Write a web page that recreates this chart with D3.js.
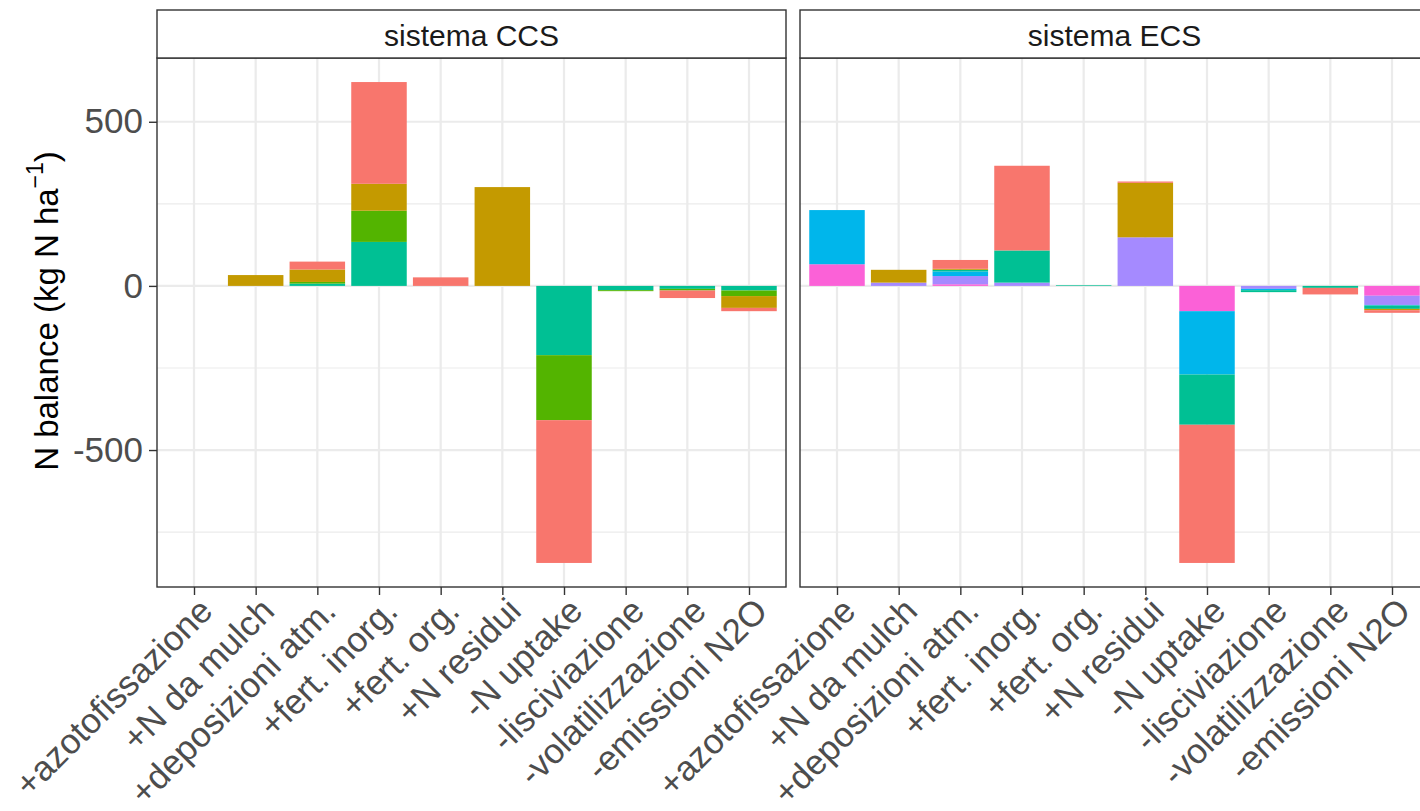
<!DOCTYPE html>
<html>
<head>
<meta charset="utf-8">
<script src="https://cdn.jsdelivr.net/npm/d3@7"></script>
<style>
  html, body { margin: 0; padding: 0; background: #ffffff; }
  svg { display: block; font-family: "Liberation Sans", Arial, sans-serif; }
</style>
</head>
<body>
<svg id="chart" width="1420" height="811"></svg>
<script>
// ---------------- DATA ----------------
const categories = ["+azotofissazione", "+N da mulch", "+deposizioni atm.", "+fert. inorg.", "+fert. org.",
                    "+N residui", "-N uptake", "-lisciviazione", "-volatilizzazione", "-emissioni N2O"];
const systems = ["sistema CCS", "sistema ECS"];
const seriesKeys = ["g1", "g2", "g3", "g4", "g5", "g6", "g7"];
const seriesColors = ["#F8766D", "#C49A00", "#53B400", "#00C094", "#00B6EB", "#A58AFF", "#FB61D7"];
const yTicks = [-500, 0, 500];
const yMinorTicks = [-750, -250, 250];

// sistema CCS
const ccs_g1 = [0, 0, 24, 310, 26, 0, -435, 0, -23, -10];
const ccs_g2 = [0, 33, 38, 82, 0, 301, 0, 0, 0, -36];
const ccs_g3 = [0, 0, 5, 95, 0, 0, -198, -3, -5, -17];
const ccs_g4 = [0, 0, 7, 134, 0, 0, -211, -13, -9, -14];
const ccs_g5 = [0, 0, 0, 0, 0, 0, 0, 0, 0, 0];
const ccs_g6 = [0, 0, 0, 0, 0, 0, 0, 0, 0, 0];
const ccs_g7 = [0, 0, 0, 0, 0, 0, 0, 0, 0, 0];
// sistema ECS
const ecs_g1 = [0, 0, 27, 258, 0, 4, -421, 0, -20, -8];
const ecs_g2 = [0, 39, 3, 0, 0, 166, 0, 0, 0, -4];
const ecs_g3 = [0, 0, 0, 0, 0, 0, 0, 0, 0, 0];
const ecs_g4 = [0, 0, 5, 98, 2, 0, -153, -6, -6, -10];
const ecs_g5 = [165, 0, 14, 0, 0, 0, -193, -4, 0, -2];
const ecs_g6 = [0, 10, 25, 10, 0, 148, 0, -9, 0, -28];
const ecs_g7 = [66, 0, 5, 0, 0, 0, -77, 0, 0, -30];

const systemSeries = [
  [ccs_g1, ccs_g2, ccs_g3, ccs_g4, ccs_g5, ccs_g6, ccs_g7],
  [ecs_g1, ecs_g2, ecs_g3, ecs_g4, ecs_g5, ecs_g6, ecs_g7]
];

// ---------------- LAYOUT ----------------
const svg = d3.select("#chart");
const panelTop = 58, panelBottom = 587;
const stripTop = 10;
const panels = [{x0: 157, x1: 786}, {x0: 800, x1: 1429}];
const font = "'Liberation Sans', Arial, sans-serif";

// build tables
const tables = systemSeries.map(series => categories.map((c, i) => {
  const row = {cat: c};
  seriesKeys.forEach((k, j) => row[k] = series[j][i]);
  return row;
}));

// stack: last level closest to zero (ggplot order)
const stackKeys = seriesKeys.slice().reverse();
const stacker = d3.stack().keys(stackKeys).offset(d3.stackOffsetDiverging);
const stacks = tables.map(t => stacker(t));

let yMin = 0, yMax = 0;
stacks.forEach(st => st.forEach(layer => layer.forEach(d => {
  yMin = Math.min(yMin, d[0], d[1]); yMax = Math.max(yMax, d[0], d[1]);
})));
const pad = (yMax - yMin) * 0.05;
const y = d3.scaleLinear().domain([yMin - pad, yMax + pad]).range([panelBottom, panelTop]);
const colorOf = d3.scaleOrdinal().domain(seriesKeys).range(seriesColors);

panels.forEach((p, pi) => {
  const x = d3.scalePoint().domain(categories).range([p.x0, p.x1]).padding(0.6);
  const bw = x.step() * 0.9;
  const g = svg.append("g");

  // panel background
  g.append("rect").attr("x", p.x0).attr("y", panelTop).attr("width", p.x1 - p.x0)
    .attr("height", panelBottom - panelTop).attr("fill", "#ffffff");

  // minor grid
  g.selectAll(".ymin").data(yMinorTicks).enter().append("line")
    .attr("x1", p.x0).attr("x2", p.x1).attr("y1", d => y(d)).attr("y2", d => y(d))
    .attr("stroke", "#EBEBEB").attr("stroke-width", 1.1);
  // major grid
  g.selectAll(".ymaj").data(yTicks).enter().append("line")
    .attr("x1", p.x0).attr("x2", p.x1).attr("y1", d => y(d)).attr("y2", d => y(d))
    .attr("stroke", "#EBEBEB").attr("stroke-width", 2.2);
  g.selectAll(".xmaj").data(categories).enter().append("line")
    .attr("x1", d => x(d)).attr("x2", d => x(d)).attr("y1", panelTop).attr("y2", panelBottom)
    .attr("stroke", "#EBEBEB").attr("stroke-width", 2.2);

  // bars
  stacks[pi].forEach(layer => {
    g.append("g").attr("fill", colorOf(layer.key))
      .selectAll("rect").data(layer.filter(d => d[1] !== d[0])).enter().append("rect")
      .attr("x", d => x(d.data.cat) - bw / 2)
      .attr("width", bw)
      .attr("y", d => y(Math.max(d[0], d[1])))
      .attr("height", d => Math.abs(y(d[0]) - y(d[1])));
  });

  // panel border
  g.append("rect").attr("x", p.x0).attr("y", panelTop).attr("width", p.x1 - p.x0)
    .attr("height", panelBottom - panelTop).attr("fill", "none")
    .attr("stroke", "#333333").attr("stroke-width", 1.4);

  // strip
  g.append("rect").attr("x", p.x0).attr("y", stripTop).attr("width", p.x1 - p.x0)
    .attr("height", panelTop - stripTop).attr("fill", "#ffffff")
    .attr("stroke", "#333333").attr("stroke-width", 1.4);
  g.append("text").attr("x", (p.x0 + p.x1) / 2).attr("y", (stripTop + panelTop) / 2 + 1)
    .attr("text-anchor", "middle").attr("dominant-baseline", "central")
    .attr("font-size", 30).attr("fill", "#1A1A1A").attr("font-family", font)
    .text(systems[pi]);

  // x axis
  const xAxis = d3.axisBottom(x).tickSize(8).tickPadding(4);
  const ax = g.append("g").attr("transform", `translate(0,${panelBottom})`).call(xAxis);
  ax.select(".domain").remove();
  ax.selectAll(".tick line").attr("stroke", "#333333").attr("stroke-width", 1.4);
  ax.selectAll(".tick text")
    .attr("font-size", 35).attr("fill", "#4D4D4D").attr("font-family", font)
    .attr("text-anchor", "end").attr("dy", null).attr("y", null)
    .attr("dominant-baseline", "hanging")
    .attr("transform", "translate(2,8) rotate(-45)");

  // y axis (left panel only)
  if (pi === 0) {
    const yAxis = d3.axisLeft(y).tickValues(yTicks).tickSize(8).tickPadding(6).tickFormat(d3.format("d"));
    const ay = g.append("g").attr("transform", `translate(${p.x0},0)`).call(yAxis);
    ay.select(".domain").remove();
    ay.selectAll(".tick line").attr("stroke", "#333333").attr("stroke-width", 1.4);
    ay.selectAll(".tick text").attr("font-size", 35).attr("fill", "#4D4D4D")
      .attr("font-family", font).text(d => String(d).replace("\u2212", "-"));
  }
});

// y axis title
const yt = svg.append("text")
  .attr("transform", `translate(58,311) rotate(-90)`)
  .attr("text-anchor", "middle").attr("font-size", 33).attr("fill", "#000000")
  .attr("font-family", font);
yt.append("tspan").text("N balance (kg N ha");
yt.append("tspan").attr("font-size", 23).attr("dy", -15).text("\u22121");
yt.append("tspan").attr("dy", 15).text(")");
</script>
</body>
</html>
